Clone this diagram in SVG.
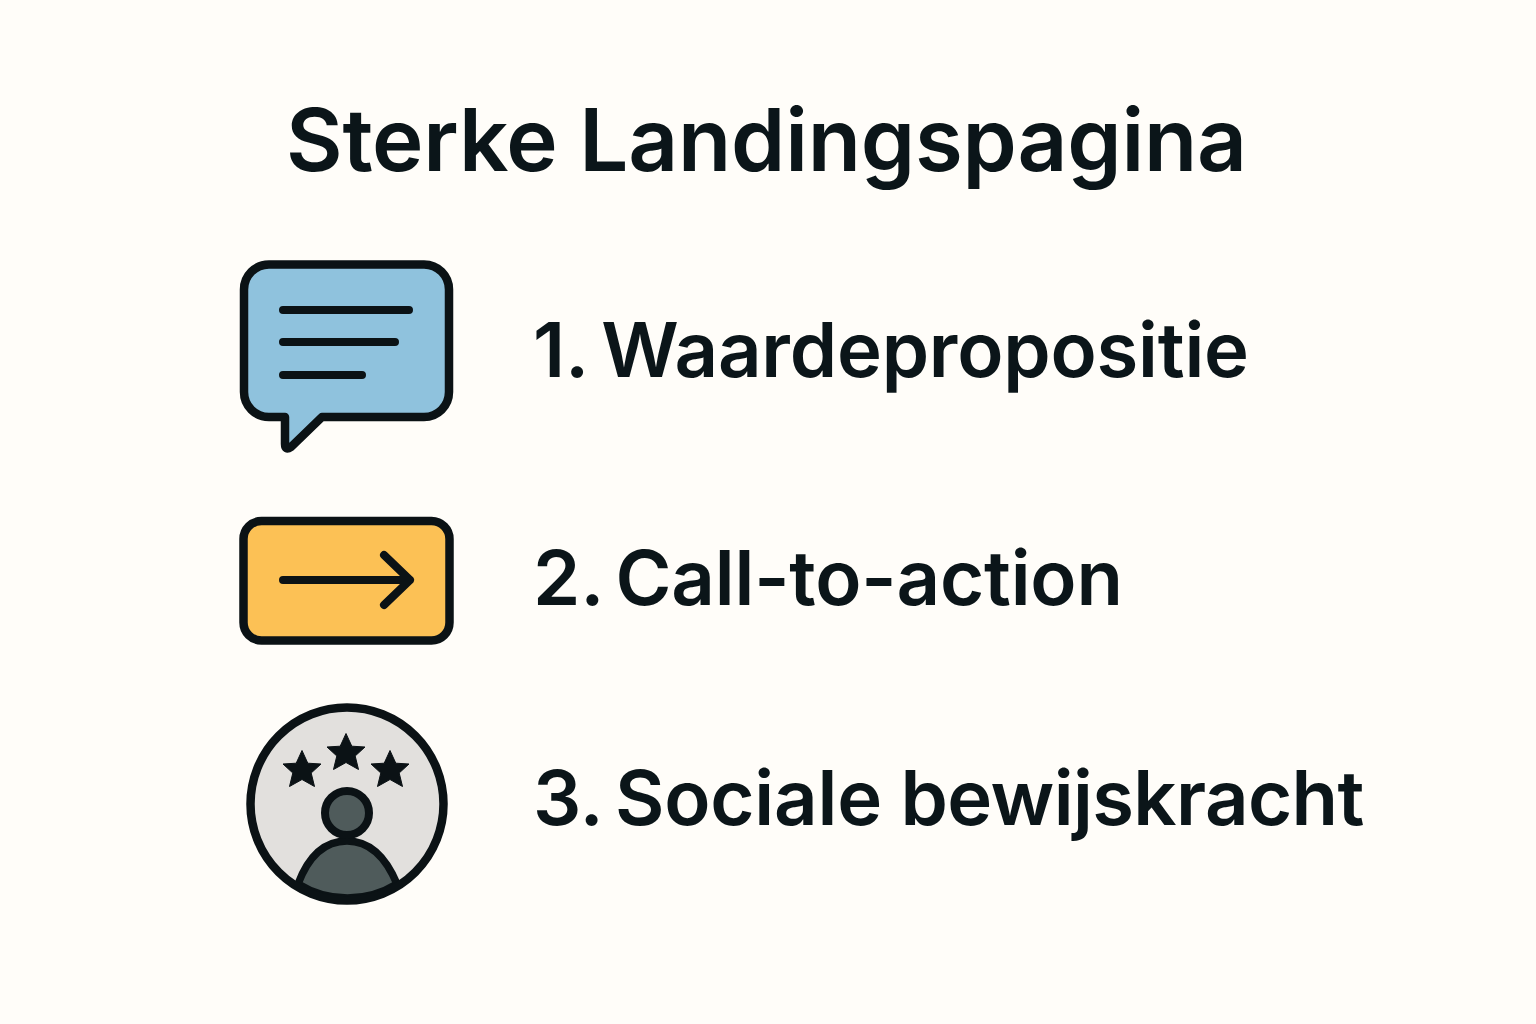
<svg xmlns="http://www.w3.org/2000/svg" width="1536" height="1024" viewBox="0 0 1536 1024">
<style>
text{font-family:Inter,"Liberation Sans",sans-serif;font-weight:600;fill:#0b1519}
.t{font-size:87px;letter-spacing:-.2px}
.i{font-size:76px;letter-spacing:-.2px}
.o{stroke:#0b1215;stroke-width:8.5;stroke-linejoin:round;stroke-linecap:round;fill:none}
.l{stroke:#0b1215;stroke-width:8;stroke-linejoin:round;stroke-linecap:round;fill:none}
.k{fill:#0b1215;stroke:#0b1215;stroke-width:1;stroke-linejoin:round}
</style>
<defs><polygon id="star" points="0,-19.500 5.800,-6.800 19,-6 9.200,3 12.500,16.500 0,9.500 -12.500,16.500 -9.200,3 -19,-6 -5.800,-6.800"/></defs>
<rect width="1536" height="1024" fill="#fffdf9"/>
<g id="title"><text class="t" x="286" y="171">Sterke Landingspagina</text></g>
<g id="node-1">
<path class="o" style="fill:#8fc2dd" d="M269 264.500H424A25 25 0 0 1 449 289.500V392A25 25 0 0 1 424 417H322L291 447Q285 451 285 444V417H269A25 25 0 0 1 244 392V289.500A25 25 0 0 1 269 264.500Z"/>
<path class="l" d="M283 310H409M283 342H395M283 375H362"/>
<text class="i" x="533" y="377" word-spacing="-5">1. Waardepropositie</text>
</g>
<g id="node-2">
<rect class="o" style="fill:#fcc155" x="243.500" y="521" width="206" height="119.500" rx="18"/>
<path class="l" d="M283 580H410M384 555L410 580L384 605"/>
<text class="i" x="533" y="605" word-spacing="-6">2. Call-to-action</text>
</g>
<g id="node-3">
<circle cx="347" cy="804" r="96.500" fill="#e2e0dd"/>
<use href="#star" class="k" x="302" y="770"/>
<use href="#star" class="k" x="346" y="753"/>
<use href="#star" class="k" x="390" y="770"/>
<path style="fill:#4f5b5b;stroke:#0b1215;stroke-width:7.500;stroke-linejoin:round" d="M298 884C307 860 322 841 347 841C372 841 387 860 397 884A94 94 0 0 1 298 884Z"/>
<circle cx="347" cy="804" r="96.500" fill="none" stroke="#0b1215" stroke-width="8.500"/>
<circle cx="347" cy="813" r="22" fill="#4f5b5b" stroke="#0b1215" stroke-width="8"/>
<text class="i" x="533" y="825" word-spacing="-6">3. Sociale<tspan dx="6" letter-spacing="-.6"> bewijskracht</tspan></text>
</g>
<g id="connectors"/>
</svg>
